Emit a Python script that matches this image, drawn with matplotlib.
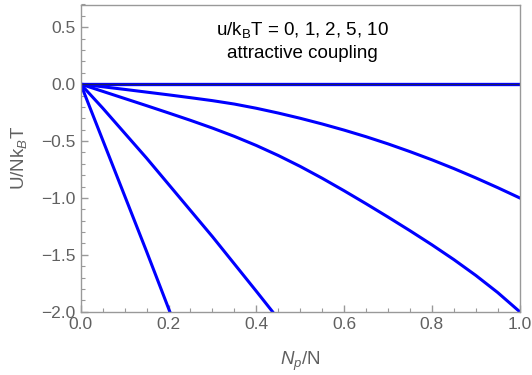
import numpy as np
import matplotlib
matplotlib.use("Agg")
import matplotlib.pyplot as plt
from matplotlib.ticker import MultipleLocator, FuncFormatter

plt.rcParams['font.family'] = ['Liberation Sans', 'DejaVu Sans']
plt.rcParams['mathtext.fontset'] = 'custom'
plt.rcParams['mathtext.rm'] = 'Liberation Sans'
plt.rcParams['mathtext.it'] = 'Liberation Sans:italic'

# values, x = N_p/N, y = U/(N k_B T)
x_u0 = [0.0, 1.0]
y_u0 = [0.0, 0.0]

x_u1 = [0.0, 0.05, 0.1, 0.15, 0.2, 0.25, 0.3, 0.35, 0.4, 0.45, 0.5,
        0.55, 0.6, 0.65, 0.7, 0.75, 0.8, 0.85, 0.9, 0.95, 1.0]
y_u1 = [0.0, -0.023, -0.046, -0.070, -0.094, -0.119, -0.145, -0.175, -0.212, -0.254, -0.300,
        -0.350, -0.404, -0.462, -0.525, -0.593, -0.665, -0.742, -0.824, -0.910, -1.0]

x_u2 = [0.0, 0.05, 0.1, 0.15, 0.2, 0.25, 0.3, 0.35, 0.4, 0.45, 0.5,
        0.55, 0.6, 0.65, 0.7, 0.75, 0.8, 0.85, 0.9, 0.95, 1.0]
y_u2 = [0.0, -0.063, -0.126, -0.189, -0.253, -0.318, -0.386, -0.459, -0.539, -0.627, -0.723,
        -0.827, -0.937, -1.051, -1.168, -1.288, -1.412, -1.542, -1.681, -1.832, -2.0]

x_u5 = [0.0, 0.05, 0.1, 0.15, 0.2, 0.25, 0.3, 0.35, 0.4, 0.437, 0.45]
y_u5 = [0.0, -0.21, -0.43, -0.65, -0.88, -1.11, -1.34, -1.58, -1.82, -2.0, -2.07]

x_u10 = [0.0, 0.05, 0.1, 0.15, 0.2, 0.21]
y_u10 = [0.0, -0.49, -0.98, -1.47, -1.97, -2.07]

fig = plt.figure(figsize=(5.32, 3.75), dpi=100)
ax = fig.add_axes([0.1517, 0.1688, 0.8252, 0.8192])

blue = '#0000ff'
ax.plot(x_u0, y_u0, color=blue, lw=2.4)
for xs, ys in [(x_u1, y_u1), (x_u2, y_u2), (x_u5, y_u5), (x_u10, y_u10)]:
    ax.plot(xs, ys, color=blue, lw=2.2, solid_joinstyle='round')
ax.axhline(0, color='#20205a', lw=0.8)

ax.set_xlim(0, 1)
ax.set_ylim(-2, 0.7)

fmt = FuncFormatter(lambda v, p: f"{v:.1f}".replace('-', '\u2212'))
ax.xaxis.set_major_locator(MultipleLocator(0.2))
ax.xaxis.set_minor_locator(MultipleLocator(0.05))
ax.yaxis.set_major_locator(MultipleLocator(0.5))
ax.yaxis.set_minor_locator(MultipleLocator(0.1))
ax.xaxis.set_major_formatter(fmt)
ax.yaxis.set_major_formatter(fmt)

ax.tick_params(which='both', direction='in', colors='#999999', labelcolor='#606060',
               top=False, right=False, labelsize=12.5)
ax.tick_params(which='major', length=5, width=1)
ax.tick_params(which='minor', length=3, width=0.8)

for s in ax.spines.values():
    s.set_color('#999999')
    s.set_linewidth(1.0)

ax.set_xlabel(r'$N_p$/N', color='#606060', fontsize=13.5)
ax.set_ylabel(r'U/Nk$_B$T', color='#606060', fontsize=13.5)
ax.xaxis.set_label_coords(0.5, -0.125)
ax.yaxis.set_label_coords(-0.117, 0.5)

ax.text(0.505, 0.475, r'u/k$_\mathrm{B}$T = 0, 1, 2, 5, 10', ha='center', va='center',
        fontsize=13.5, color='black')
ax.text(0.505, 0.265, 'attractive coupling', ha='center', va='center',
        fontsize=13.5, color='black')

fig.savefig('out.png', dpi=100)
